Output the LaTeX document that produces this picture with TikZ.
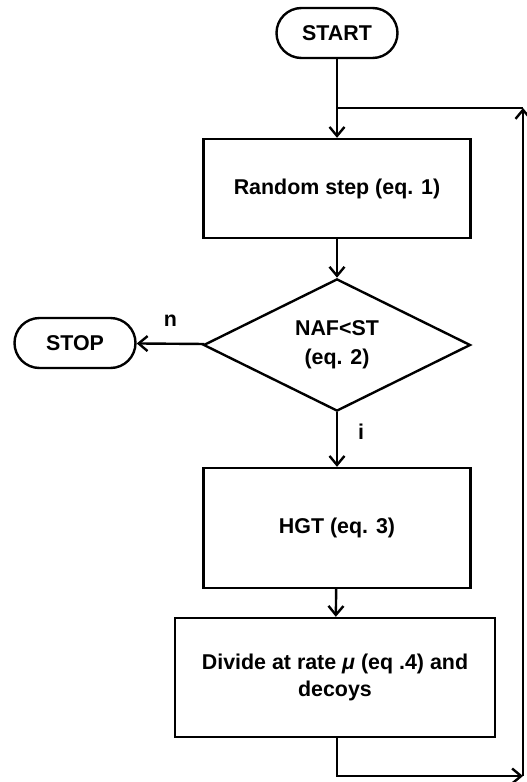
\documentclass[tikz,border=0pt]{standalone}
\usepackage{fontspec}
\setmainfont{Liberation Sans}
\usetikzlibrary{arrows.meta,shapes.geometric}

\begin{document}
\begin{tikzpicture}[x=0.5pt,y=-0.5pt,line width=1.2pt,
    every node/.style={font=\fontsize{10.7}{13.5}\selectfont\bfseries,inner sep=2pt},
    term/.style={draw,rectangle,rounded corners=12.5pt,minimum width=60.5pt,minimum height=25pt},
    block/.style={draw,rectangle,minimum width=133.5pt,align=center},
    test/.style={draw,diamond,inner sep=0pt,minimum width=133.5pt,minimum height=62pt,align=center},
    >={Straight Barb[length=4.5pt,width=7.5pt]}]
    \useasboundingbox(0,0)rectangle(526,782);
    \node[term](start)at(337,33){START};
    \node[block,minimum height=49.5pt](step1)at(337,188.5){Random step (eq. 1)};
    \node[test](naf)at(337,345){NAF<ST\\[1pt](eq. 2)};
    \node[term](stop)at(75,343){STOP};
    \node[block,minimum height=60pt](hgt)at(337,528){HGT (eq. 3)};
    \node[block,minimum width=160pt,minimum height=59.5pt](divide)at(335,677.5)
      {Divide at rate \textit{μ} (eq .4) and\\decoys};
    \coordinate(join)at(337,108);
    \coordinate(rb)at(523,776);
    \coordinate(rt)at(523,108);
    \draw[->](start)--(step1);
    \draw[->](step1)--(naf);
    \draw[->](naf)--node[above=6pt]{n}(stop);
    \draw[->](naf)--node[right=8pt,pos=0.35]{i}(hgt);
    \draw[->](hgt)--(divide);
    \draw[->](divide.south-|join)|-(rb);
    \draw[->](rb)--(rt);
    \draw(rt)--(join);
  \end{tikzpicture}
\end{document}
